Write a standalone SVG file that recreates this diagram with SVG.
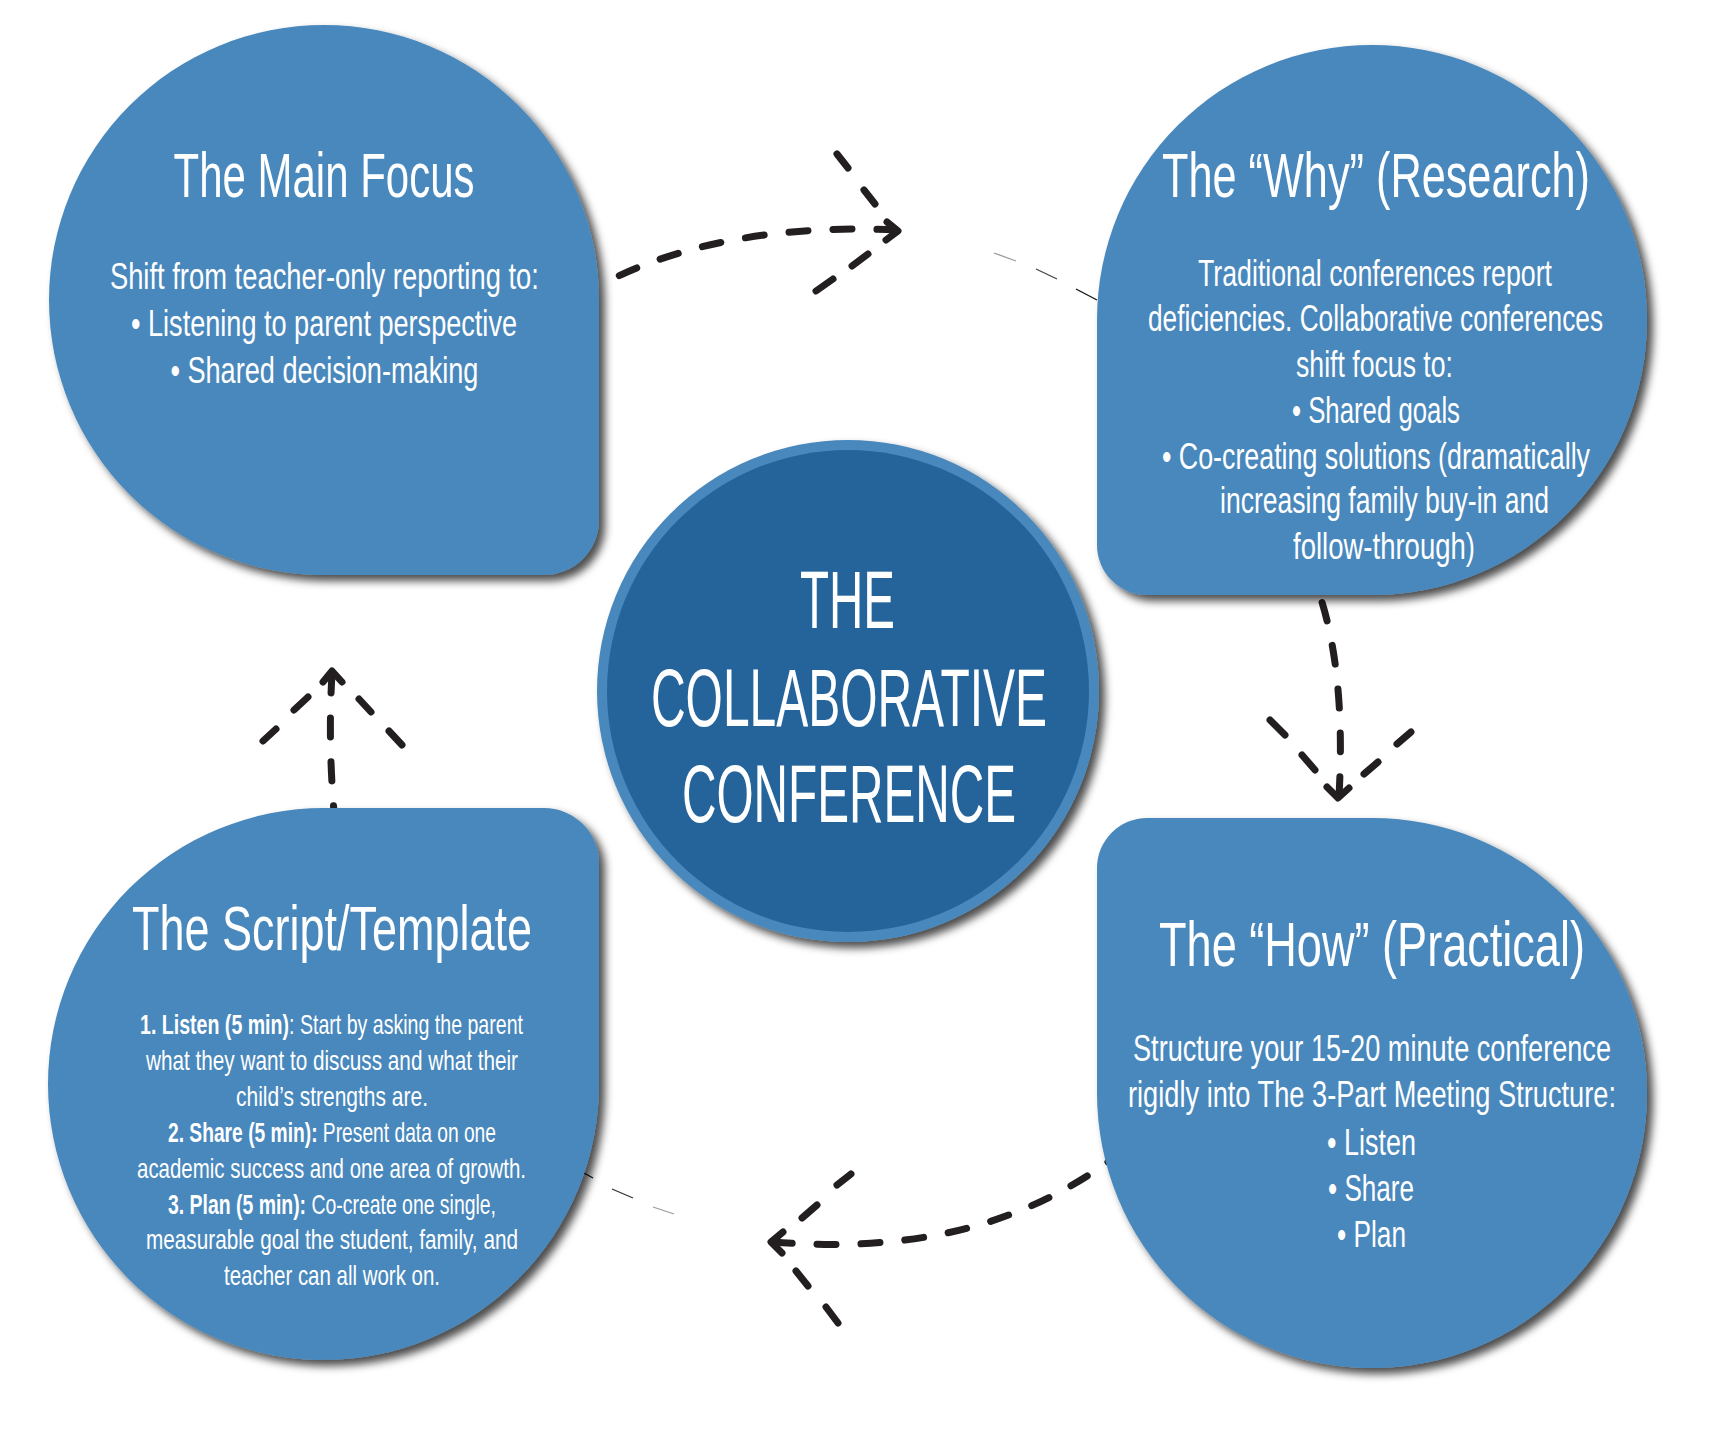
<svg xmlns="http://www.w3.org/2000/svg" width="1724" height="1443" viewBox="0 0 1724 1443">
<defs>
<filter id="sh" x="-10%" y="-10%" width="125%" height="125%">
<feDropShadow dx="6" dy="6" stdDeviation="4.5" flood-color="#000" flood-opacity="0.7"/>
</filter>
<style>
.node{fill:#4a88bc;filter:url(#sh);}
.t{fill:#fff;font-family:"Liberation Sans Narrow","Liberation Sans",Arial,sans-serif;text-anchor:middle;}
.title{font-size:63px;}
.body{font-size:37px;}
.small{font-size:28.5px;}
.center{font-size:82px;}
.b{font-weight:bold;}
.conn{fill:none;stroke:#231f20;stroke-width:7;stroke-linecap:round;stroke-linejoin:round;}
.dash{stroke-dasharray:19 25;}
.thin{fill:none;stroke-width:1.3;}
</style>
</defs>
<rect width="1724" height="1443" fill="#fff"/>

<g id="connectors">
<!-- top: Main Focus -> Why -->
<path class="conn dash" d="M896,230 C790,225 690,240 608,281"/>
<polyline class="conn" points="887,222 898,231 886,240"/>
<path class="conn" d="M837,154 L848,168 M864,190 L875,204"/>
<path class="conn" d="M868,254 L852,266 M833,279 L816,291"/>
<g class="thin">
<line x1="994" y1="253" x2="1016" y2="261" stroke="#999"/>
<line x1="1036" y1="269" x2="1057" y2="279" stroke="#444"/>
<line x1="1076" y1="289" x2="1097" y2="300" stroke="#111"/>
</g>
<!-- right: Why -> How -->
<path class="conn dash" d="M1339,796 Q1346,670 1318,590"/>
<polyline class="conn" points="1327,787 1338,798 1349,788"/>
<path class="conn" d="M1270,720 L1285,735 M1302,755 L1315,770"/>
<path class="conn" d="M1411,732 L1397,744 M1378,762 L1364,774"/>
<!-- bottom: How -> Script -->
<path class="conn dash" d="M773,1242 C900,1252 1010,1232 1108,1162"/>
<polyline class="conn" points="783,1232 771,1242 782,1253"/>
<path class="conn" d="M851,1174 L837,1185 M817,1205 L802,1218"/>
<path class="conn" d="M796,1271 L808,1286 M826,1307 L838,1323"/>
<g class="thin">
<line x1="584" y1="1173" x2="593" y2="1178" stroke="#111"/>
<line x1="612" y1="1189" x2="633" y2="1198" stroke="#333"/>
<line x1="653" y1="1207" x2="674" y2="1214" stroke="#999"/>
</g>
<!-- left: Script -> Main Focus -->
<path class="conn dash" d="M332,674 Q328,740 334,812"/>
<polyline class="conn" points="323,682 332,671 342,682"/>
<path class="conn" d="M308,697 L294,710 M276,729 L263,741"/>
<path class="conn" d="M359,699 L371,712 M389,731 L402,745"/>
</g>

<g id="main-focus">
<path class="node" d="M324,25 A275,275 0 0 1 599,300 L599,520 A55,55 0 0 1 544,575 L324,575 A275,275 0 0 1 49,300 A275,275 0 0 1 324,25 Z"/>
<text class="t title" x="324" y="197" textLength="301" lengthAdjust="spacingAndGlyphs">The Main Focus</text>
<text class="t body" x="324.4" y="289" textLength="429" lengthAdjust="spacingAndGlyphs">Shift from teacher-only reporting to:</text>
<text class="t body" x="324" y="336" textLength="386" lengthAdjust="spacingAndGlyphs">• Listening to parent perspective</text>
<text class="t body" x="324.4" y="383" textLength="308" lengthAdjust="spacingAndGlyphs">• Shared decision-making</text>
</g>

<g id="why">
<path class="node" d="M1372,45 A275,275 0 0 1 1647,320 A275,275 0 0 1 1372,595 L1147,595 A50,50 0 0 1 1097,545 L1097,320 A275,275 0 0 1 1372,45 Z"/>
<text class="t title" x="1376" y="197" textLength="428" lengthAdjust="spacingAndGlyphs">The “Why” (Research)</text>
<text class="t body" x="1375" y="286" textLength="354" lengthAdjust="spacingAndGlyphs">Traditional conferences report</text>
<text class="t body" x="1375.5" y="331" textLength="455" lengthAdjust="spacingAndGlyphs">deficiencies. Collaborative conferences</text>
<text class="t body" x="1374.5" y="377" textLength="157" lengthAdjust="spacingAndGlyphs">shift focus to:</text>
<text class="t body" x="1376" y="423" textLength="168" lengthAdjust="spacingAndGlyphs">• Shared goals</text>
<text class="t body" x="1376" y="469" textLength="428" lengthAdjust="spacingAndGlyphs">• Co-creating solutions (dramatically</text>
<text class="t body" x="1384.5" y="513" textLength="329" lengthAdjust="spacingAndGlyphs">increasing family buy-in and</text>
<text class="t body" x="1384" y="559" textLength="182" lengthAdjust="spacingAndGlyphs">follow-through)</text>
</g>

<g id="script-template">
<path class="node" d="M48,1084 A276,276 0 0 1 324,808 L544,808 A55,55 0 0 1 599,863 L599,1084 A276,276 0 0 1 324,1360 A276,276 0 0 1 48,1084 Z"/>
<text class="t title" x="332" y="950" textLength="400" lengthAdjust="spacingAndGlyphs">The Script/Template</text>
<text class="t small" x="331.5" y="1034" textLength="383" lengthAdjust="spacingAndGlyphs"><tspan class="b">1. Listen (5 min)</tspan>: Start by asking the parent</text>
<text class="t small" x="332" y="1070" textLength="372" lengthAdjust="spacingAndGlyphs">what they want to discuss and what their</text>
<text class="t small" x="332" y="1106" textLength="192" lengthAdjust="spacingAndGlyphs">child’s strengths are.</text>
<text class="t small" x="332" y="1142" textLength="328" lengthAdjust="spacingAndGlyphs"><tspan class="b">2. Share (5 min):</tspan> Present data on one</text>
<text class="t small" x="331.5" y="1178" textLength="389" lengthAdjust="spacingAndGlyphs">academic success and one area of growth.</text>
<text class="t small" x="332" y="1214" textLength="328" lengthAdjust="spacingAndGlyphs"><tspan class="b">3. Plan (5 min):</tspan> Co-create one single,</text>
<text class="t small" x="332" y="1249" textLength="372" lengthAdjust="spacingAndGlyphs">measurable goal the student, family, and</text>
<text class="t small" x="332" y="1285" textLength="216" lengthAdjust="spacingAndGlyphs">teacher can all work on.</text>
</g>

<g id="how">
<path class="node" d="M1097,868 A50,50 0 0 1 1147,818 L1372,818 A275,275 0 0 1 1647,1093 A275,275 0 0 1 1372,1368 A275,275 0 0 1 1097,1093 Z"/>
<text class="t title" x="1372" y="966" textLength="426" lengthAdjust="spacingAndGlyphs">The “How” (Practical)</text>
<text class="t body" x="1372" y="1061" textLength="478" lengthAdjust="spacingAndGlyphs">Structure your 15-20 minute conference</text>
<text class="t body" x="1372" y="1107" textLength="488" lengthAdjust="spacingAndGlyphs">rigidly into The 3-Part Meeting Structure:</text>
<text class="t body" x="1371.5" y="1155" textLength="89" lengthAdjust="spacingAndGlyphs">• Listen</text>
<text class="t body" x="1371" y="1201" textLength="86" lengthAdjust="spacingAndGlyphs">• Share</text>
<text class="t body" x="1371.5" y="1247" textLength="69" lengthAdjust="spacingAndGlyphs">• Plan</text>
</g>

<g id="center">
<circle cx="848" cy="691" r="251" fill="#4a88bc" filter="url(#sh)"/>
<circle cx="848" cy="691" r="241" fill="#25649b"/>
<text class="t center" x="847.5" y="628" textLength="95" lengthAdjust="spacingAndGlyphs">THE</text>
<text class="t center" x="849" y="725.5" textLength="396" lengthAdjust="spacingAndGlyphs">COLLABORATIVE</text>
<text class="t center" x="849" y="822" textLength="334" lengthAdjust="spacingAndGlyphs">CONFERENCE</text>
</g>
</svg>
